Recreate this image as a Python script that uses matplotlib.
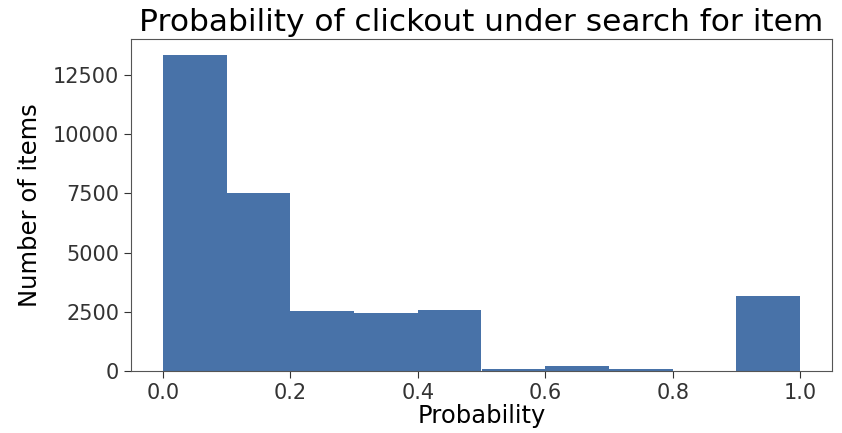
import matplotlib
matplotlib.use("Agg")
import matplotlib.pyplot as plt
import numpy as np

bin_edges = [0.0, 0.1, 0.2, 0.3, 0.4, 0.5, 0.6, 0.7, 0.8, 0.9, 1.0]
counts = [13350, 7530, 2520, 2440, 2570, 70, 200, 80, 0, 3150]
title = "Probability of clickout under search for item"
xlabel = "Probability"
ylabel = "Number of items"

fig = plt.figure(figsize=(8.42, 4.33), dpi=100)
ax = fig.add_axes([131/842, 1-371/433, (832-131)/842, (371-39)/433])
ax.hist(bin_edges[:-1], bins=bin_edges, weights=counts, color="#4872a8")
ax.set_xlim(-0.05, 1.05)
ax.set_ylim(0, max(counts) * 1.05)
ax.set_yticks([0, 2500, 5000, 7500, 10000, 12500])
ax.set_xticks([0.0, 0.2, 0.4, 0.6, 0.8, 1.0])
ax.tick_params(labelsize=15, colors="#333333", length=5)
for s in ax.spines.values():
    s.set_color("#555555")
ax.set_title(title, fontsize=22.5, pad=6)
ax.set_xlabel(xlabel, fontsize=17.5, labelpad=1)
ax.set_ylabel(ylabel, fontsize=17.5, labelpad=8)
fig.savefig("out.png", dpi=100)
